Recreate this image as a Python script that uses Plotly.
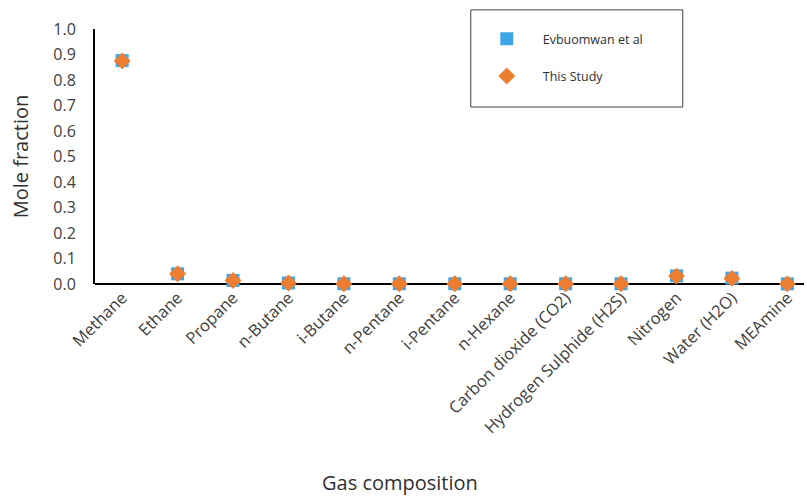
import plotly.graph_objects as go

categories = ["Methane", "Ethane", "Propane", "n-Butane", "i-Butane", "n-Pentane",
              "i-Pentane", "n-Hexane", "Carbon dioxide (CO2)", "Hydrogen Sulphide (H2S)",
              "Nitrogen", "Water (H2O)", "MEAmine"]
evbuomwan = [0.876, 0.040, 0.014, 0.004, 0.001, 0.001, 0.001, 0.001, 0.001, 0.001, 0.032, 0.023, 0.0005]
this_study = [0.875, 0.040, 0.014, 0.004, 0.001, 0.001, 0.001, 0.001, 0.001, 0.001, 0.031, 0.022, 0.0005]
y_ticks = [i / 10 for i in range(11)]
y_tick_text = [f"{v:.1f}" for v in y_ticks]

FONT = "'Open Sans', sans-serif"

fig = go.Figure()
fig.add_trace(go.Scatter(
    x=list(range(len(categories))), y=evbuomwan, mode="markers", name="Evbuomwan et al",
    legendgroup="a",
    marker=dict(symbol="square", size=13, color="#3FA7E8", line=dict(width=0)),
    cliponaxis=False,
))
fig.add_trace(go.Scatter(
    x=list(range(len(categories))), y=this_study, mode="markers", name="This Study",
    legendgroup="b",
    marker=dict(symbol="diamond", size=13, color="#ED7D31", line=dict(width=0)),
    cliponaxis=False,
))

fig.update_layout(
    width=807, height=497,
    margin=dict(l=95, r=3, t=29, b=213, autoexpand=False),
    paper_bgcolor="white", plot_bgcolor="white",
    font=dict(family=FONT, color="#404040"),
    showlegend=True,
    legend=dict(
        x=0.530, y=1.019, xanchor="left", yanchor="top",
        bgcolor="rgba(0,0,0,0)", borderwidth=0,
        font=dict(size=12.5, color="#303030", family=FONT),
        traceorder="grouped", tracegroupgap=18,
        itemwidth=62,
    ),
    shapes=[dict(
        type="rect", xref="paper", yref="paper",
        x0=0.530, x1=0.829, y0=0.694, y1=1.075,
        line=dict(color="#404040", width=1), fillcolor="rgba(0,0,0,0)", layer="below",
    )],
    xaxis=dict(
        range=[-0.49, 12.3], automargin=False,
        tickmode="array", tickvals=list(range(len(categories))), ticktext=categories,
        tickangle=-45, tickfont=dict(size=16.5, color="#404040"),
        showgrid=False, zeroline=False, showline=False, ticks="",
    ),
    yaxis=dict(
        range=[0, 1.0], automargin=False,
        tickmode="array", tickvals=y_ticks, ticktext=y_tick_text,
        tickfont=dict(size=16, color="#404040"),
        showgrid=False, zeroline=True, zerolinecolor="black", zerolinewidth=2,
        showline=True, linecolor="black", linewidth=2, ticks="",
        ticklabelstandoff=14,
        title=dict(text="Mole fraction", font=dict(size=20, color="#303030"), standoff=19),
    ),
    annotations=[dict(
        text="Gas composition", xref="paper", yref="paper",
        x=0.43, y=-0.78, xanchor="center", yanchor="middle", showarrow=False,
        font=dict(size=20, color="#303030", family=FONT),
    )],
)

fig.write_html("out.html", post_script="document.body.style.margin='0';",
               config={"displayModeBar": False})
